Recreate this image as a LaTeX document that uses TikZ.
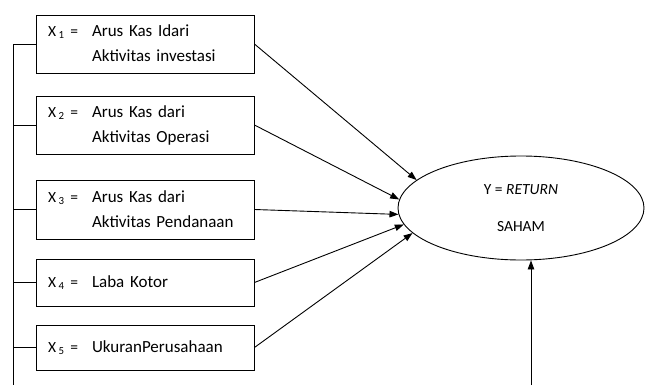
\documentclass[tikz,border=0pt]{standalone}
\usepackage{fontspec}
\setmainfont{Carlito}
\usetikzlibrary{arrows.meta, shapes.geometric, positioning, calc}

\newcommand{\xtext}[2]{\noindent\begin{tabular}{@{}p{44pt}@{}l@{}}{\fontsize{15.5}{25}\selectfont X\,\textsubscript{#1} =} & #2\end{tabular}}

\begin{document}
\begin{tikzpicture}[
    x=1pt, y=-1pt,
    varbox/.style={rectangle, draw, line width=0.9pt, minimum width=218pt, inner xsep=12pt, text width=194pt, align=left, font=\fontsize{17}{25}\selectfont},
    ybox/.style={ellipse, draw, line width=0.9pt, minimum width=246pt, minimum height=104pt, inner sep=0pt, align=center, font=\fontsize{15.5}{37}\selectfont},
    arrow/.style={-{Triangle[length=9pt, width=6.5pt]}, line width=0.9pt},
    link/.style={line width=0.9pt}
]
\useasboundingbox (0,0) rectangle (647,385);

% Independent variables
\node[varbox, minimum height=58pt] (x1) at (145,44) {\xtext{1}{Arus Kas Idari\\ & Aktivitas investasi}};
\node[varbox, minimum height=58pt] (x2) at (145,125) {\xtext{2}{Arus Kas dari\\ & Aktivitas Operasi}};
\node[varbox, minimum height=59pt] (x3) at (145,209.5) {\xtext{3}{Arus Kas dari\\ & Aktivitas Pendanaan}};
\node[varbox, minimum height=47pt] (x4) at (145,282.5) {\xtext{4}{Laba Kotor}};
\node[varbox, minimum height=45pt] (x5) at (145,347.5) {\xtext{5}{UkuranPerusahaan}};

% Dependent variable
\node[ybox] (saham) at (521,208) {Y = \textit{RETURN}\\SAHAM};

% Left rail joining the boxes
\coordinate (railend) at (13,385);
\draw[link] (x1.west) -- (x1.west -| railend) -- (railend);
\draw[link] (x2.west) -- (x2.west -| railend);
\draw[link] (x3.west) -- (x3.west -| railend);
\draw[link] (x4.west) -- (x4.west -| railend);
\draw[link] (x5.west) -- (x5.west -| railend);

% Arrows into Y
\draw[arrow] (x1.east) -- (saham.165);
\draw[arrow] (x2.east) -- (saham.176);
\draw[arrow] (x3.east) -- (saham.183);
\draw[arrow] (x4.east) -- (saham.188);
\draw[arrow] (x5.east) -- (saham.193);

\coordinate (ret) at (531,385);
\draw[arrow] (ret) -- (ret |- saham.south);

\end{tikzpicture}
\end{document}
